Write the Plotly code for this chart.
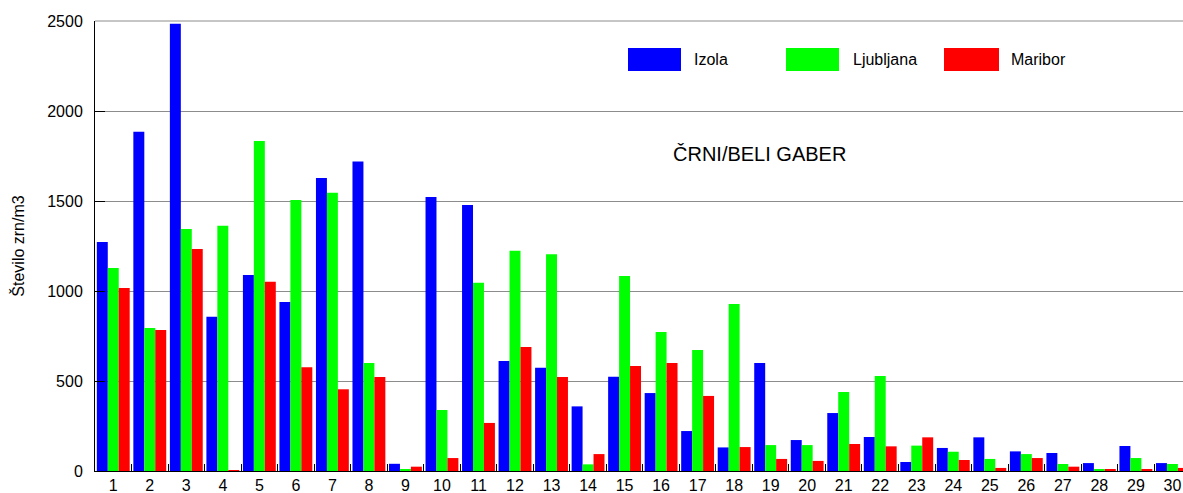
import plotly.graph_objects as go

days = [str(d) for d in range(1, 31)]
series_names = ["Izola", "Ljubljana", "Maribor"]
izola = [1272, 1885, 2485, 857, 1089, 939, 1628, 1719, 40, 1522,
         1478, 611, 574, 359, 524, 433, 222, 131, 600, 172,
         322, 189, 50, 128, 187, 109, 100, 44, 139, 44]
ljubljana = [1128, 794, 1345, 1363, 1833, 1506, 1546, 600, 8, 339,
             1046, 1224, 1204, 37, 1083, 772, 672, 928, 144, 144,
             439, 528, 141, 107, 67, 94, 39, 6, 72, 39]
maribor = [1017, 783, 1233, 5, 1052, 576, 454, 522, 24, 72,
           267, 689, 522, 94, 583, 600, 417, 133, 67, 56,
           150, 137, 187, 61, 17, 72, 24, 11, 6, 17]
colors = ["#0000FF", "#00FF00", "#FF0000"]
title_text = "ČRNI/BELI GABER"
y_title = "Število zrn/m3"

fig = go.Figure()
for name, vals, col in zip(series_names, [izola, ljubljana, maribor], colors):
    fig.add_trace(go.Bar(x=days, y=vals, name=name, marker=dict(color=col, line=dict(width=0)),
                         showlegend=False))

FONT = "Liberation Sans, Arial, sans-serif"
L, R, T, B = 95, 0, 21, 22
W, H = 1183, 493

fig.update_layout(
    width=W, height=H,
    margin=dict(l=L, r=R, t=T, b=B, pad=0, autoexpand=False),
    paper_bgcolor="white", plot_bgcolor="white",
    barmode="group", bargap=0.1, bargroupgap=0,
    font=dict(family=FONT, size=16, color="black"),
)
fig.update_xaxes(
    type="category", range=[-0.5, 29.29], tickson="boundaries",
    ticks="inside", ticklen=7, tickcolor="black", tickwidth=1,
    showline=True, linecolor="black", linewidth=1, showgrid=False,
    tickfont=dict(size=16), fixedrange=True, automargin=False,
)
fig.update_yaxes(
    range=[0, 2500], dtick=500, tick0=0,
    showgrid=True, gridcolor="#8c8c8c", gridwidth=1,
    showline=True, linecolor="black", linewidth=1,
    ticks="inside", ticklen=10, tickcolor="black",
    ticklabelstandoff=8, automargin=False,
    title=dict(text=y_title, font=dict(size=16), standoff=18),
    tickfont=dict(size=16), zeroline=False, fixedrange=True,
)

# top gridline (at the range edge)
fig.add_shape(type="line", xref="paper", yref="paper", x0=0, x1=1, y0=1, y1=1,
              line=dict(color="#8c8c8c", width=1), layer="below")

# custom legend (large swatches)
pw = W - L - R
ph = H - T - B
def px_x(x):
    return (x - L) / pw
def px_y(y):
    return (H - B - y) / ph

swatches = [(628, 681, 692), (786, 839, 851), (944, 999, 1009)]
for (x0, x1, tx), name, col in zip(swatches, series_names, colors):
    fig.add_shape(type="rect", xref="paper", yref="paper",
                  x0=px_x(x0), x1=px_x(x1), y0=px_y(71), y1=px_y(48),
                  fillcolor=col, line=dict(width=0))
    fig.add_annotation(xref="paper", yref="paper", x=px_x(tx), y=px_y(59.5),
                       text=name, showarrow=False, xanchor="left", yanchor="middle",
                       font=dict(size=16, family=FONT, color="black"))

fig.add_annotation(xref="paper", yref="paper", x=px_x(759), y=px_y(154),
                   text=title_text, showarrow=False, xanchor="center", yanchor="middle",
                   font=dict(size=20, family=FONT, color="black"))

fig.write_html("out.html", config={"displayModeBar": False},
               post_script="document.body.style.margin='0';document.body.style.overflow='hidden';")
